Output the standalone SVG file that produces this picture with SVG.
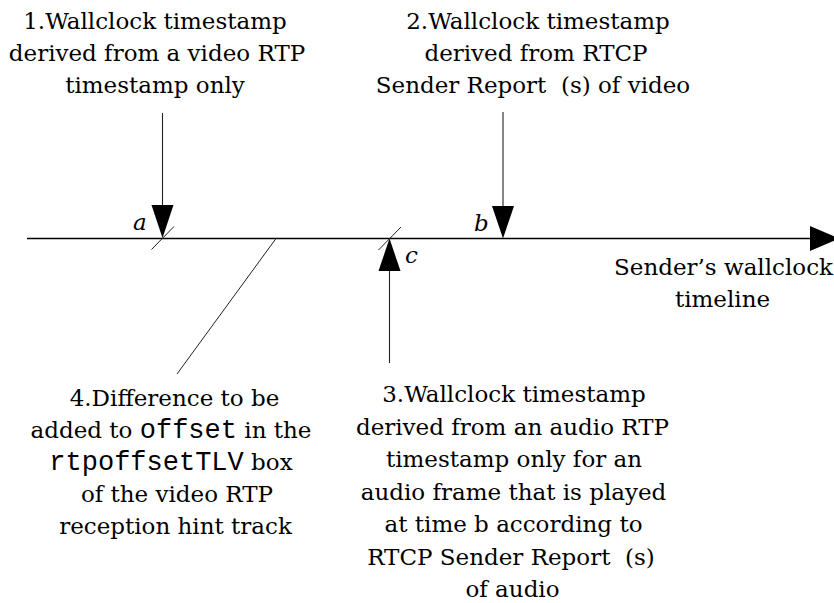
<svg xmlns="http://www.w3.org/2000/svg" width="834" height="603" viewBox="0 0 834 603">
  <style>
    .lbl { font-family: "DejaVu Serif", "Liberation Serif", serif; font-size: 23px; fill: #000; text-anchor: middle; white-space: pre; }
    .mono { font-family: "Liberation Mono", "Courier New", monospace; font-size: 27px; }
    .pt { font-family: "DejaVu Serif", "Liberation Serif", serif; font-style: italic; font-size: 23px; fill: #000; }
    .axis { stroke: #000; stroke-width: 1.3; fill: none; }
    .shaft { stroke: #222; stroke-width: 1.1; fill: none; }
    .tick { stroke: #222; stroke-width: 1; fill: none; }
    .head { fill: #000; stroke: none; }
  </style>

  <!-- connectors: timeline, pointer arrows, ticks and the leader line -->
  <g id="connectors">
    <line class="axis" x1="27" y1="238.5" x2="814" y2="238.5"/>
    <polygon class="head" points="810,226 839,238.5 810,251"/>

    <!-- arrow to point a -->
    <line class="shaft" x1="162.5" y1="113" x2="162.5" y2="206"/>
    <polygon class="head" points="151.5,205 173.5,205 162.5,238"/>
    <line class="tick" x1="151.5" y1="249.5" x2="174" y2="226.5"/>

    <!-- arrow to point b -->
    <line class="shaft" x1="503" y1="112" x2="503" y2="207"/>
    <polygon class="head" points="492,206 514,206 503,238.5"/>

    <!-- arrow up to point c -->
    <line class="shaft" x1="389.5" y1="363" x2="389.5" y2="270"/>
    <polygon class="head" points="378.5,271 400.5,271 389.5,238.5"/>
    <line class="tick" x1="378.5" y1="250" x2="401" y2="227"/>

    <!-- leader from the timeline to note 4 -->
    <line class="tick" x1="276" y1="238.5" x2="177" y2="374"/>
  </g>

  <!-- point letters on the timeline -->
  <g id="point-a"><text class="pt" x="133" y="230">a</text></g>
  <g id="point-b"><text class="pt" x="474" y="231">b</text></g>
  <g id="point-c"><text class="pt" x="405" y="263">c</text></g>

  <g id="note-1">
    <text class="lbl" x="155" y="28.5">1.Wallclock timestamp</text>
    <text class="lbl" x="157" y="60.5">derived from a video RTP</text>
    <text class="lbl" x="155" y="92.5">timestamp only</text>
  </g>

  <g id="note-2">
    <text class="lbl" x="538" y="28.5">2.Wallclock timestamp</text>
    <text class="lbl" x="536" y="60.5">derived from RTCP</text>
    <text class="lbl" x="533" y="92.5">Sender Report  (s) of video</text>
  </g>

  <g id="timeline-label">
    <text class="lbl" x="723.5" y="275">Sender’s wallclock</text>
    <text class="lbl" x="722.5" y="307">timeline</text>
  </g>

  <g id="note-3">
    <text class="lbl" x="514" y="402">3.Wallclock timestamp</text>
    <text class="lbl" x="512.5" y="434.5">derived from an audio RTP</text>
    <text class="lbl" x="514" y="467">timestamp only for an</text>
    <text class="lbl" x="513.5" y="499.5">audio frame that is played</text>
    <text class="lbl" x="513.5" y="532">at time b according to</text>
    <text class="lbl" x="511" y="564.5">RTCP Sender Report  (s)</text>
    <text class="lbl" x="512.5" y="597">of audio</text>
  </g>

  <g id="note-4">
    <text class="lbl" x="174.5" y="405.5">4.Difference to be</text>
    <text class="lbl" x="171" y="437.5">added to <tspan class="mono">offset</tspan> in the</text>
    <text class="lbl" x="171" y="469.5"><tspan class="mono">rtpoffsetTLV</tspan> box</text>
    <text class="lbl" x="177" y="501.5">of the video RTP</text>
    <text class="lbl" x="175.5" y="533.5">reception hint track</text>
  </g>
</svg>
